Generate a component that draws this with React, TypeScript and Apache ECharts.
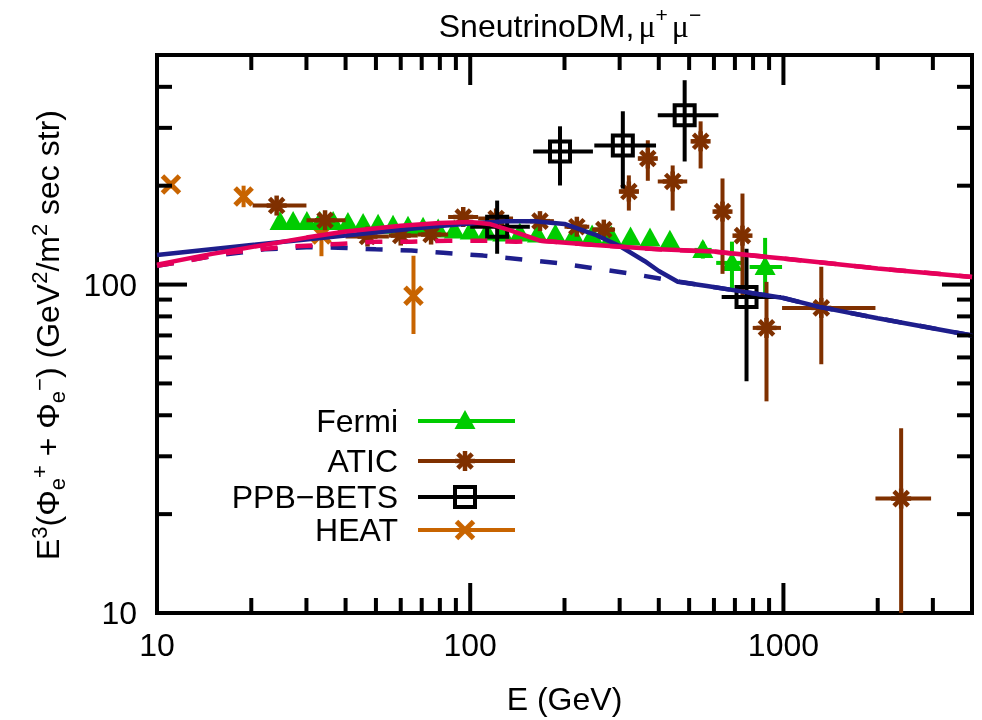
import React, { useEffect, useRef } from 'react';
import * as echarts from 'echarts';

// ---------- axes ----------
const X_MIN = 10;
const X_MAX = 4000;
const Y_MIN = 10;
const Y_MAX = 500;
const xMajorTicks = [10, 100, 1000];
const xMinorTicks = [20, 30, 40, 50, 60, 70, 80, 90, 200, 300, 400, 500, 600, 700, 800, 900, 2000, 3000];
const yMajorTicks = [10, 100];
const yMinorTicks = [20, 30, 40, 50, 60, 70, 80, 90, 200, 300, 400];
const xTickLabels = ['10', '100', '1000'];
const yTickLabels = ['10', '100'];

const titleText = 'SneutrinoDM,';
const xAxisTitle = 'E (GeV)';
const legendNames = ['Fermi', 'ATIC', 'PPB\u2212BETS', 'HEAT'];

// ---------- theory curves: [E (GeV), E^3 flux] ----------
const blueSolid = [
  [10, 123], [20, 132], [40, 141], [75, 150], [100, 153.5], [130, 156], [160, 156], [200, 153],
  [250, 142], [300, 131], [360, 118], [400, 110], [460, 102], [570, 99], [700, 96], [1000, 91],
  [1300, 85.5], [2000, 79], [4000, 70],
];
const blueDashed = [
  [10, 114], [15, 122], [22, 128], [30, 130], [38, 129.5], [50, 128], [65, 127], [82, 125],
  [110, 122.5], [150, 119], [195, 116], [250, 112], [325, 108], [410, 104], [466, 102], [570, 99],
  [700, 96], [1000, 91], [1300, 85.5], [2000, 79], [4000, 70],
];
const pinkSolid = [
  [10, 115], [15, 124], [20, 130], [30, 139], [40, 145], [60, 151], [80, 154], [100, 155],
  [115, 153], [135, 146], [167, 136], [250, 132], [400, 128], [600, 126], [1000, 120],
  [1300, 117], [2000, 112], [4000, 105.5],
];
const pinkDashed = [
  [10, 114], [13, 119], [17, 125], [25, 130], [38, 133], [50, 135], [65, 135], [85, 136],
  [110, 136], [140, 135], [167, 136], [250, 132], [400, 128], [600, 126], [1000, 120],
  [1300, 117], [2000, 112], [4000, 105.5],
];

// ---------- data: [E, value, Elow, Ehigh, valueLow, valueHigh] ----------
const fermi = [
  [24.7, 155, 24.7, 24.7, 155, 155], [27.2, 155, 27.2, 27.2, 155, 155], [30.1, 155, 30.1, 30.1, 155, 155],
  [33.1, 155, 33.1, 33.1, 155, 155], [36.5, 155, 36.5, 36.5, 155, 155], [40.7, 154, 40.7, 40.7, 154, 154],
  [45.5, 153, 45.5, 45.5, 153, 153], [50.8, 152, 50.8, 50.8, 152, 152], [56.7, 151, 56.7, 56.7, 151, 151],
  [63.3, 150, 63.3, 63.3, 150, 150], [70.7, 149, 70.7, 70.7, 149, 149], [79, 147, 79, 79, 147, 147],
  [89, 146, 89, 89, 146, 146], [100, 145, 100, 100, 145, 145], [113, 144, 113, 113, 144, 144],
  [127, 143, 127, 127, 143, 143], [144, 143, 144, 144, 143, 143], [164, 142, 164, 164, 142, 142],
  [187, 142, 187, 187, 142, 142], [214, 141, 214, 214, 141, 141], [245, 141, 245, 245, 141, 141],
  [282, 140, 282, 282, 140, 140], [325, 139, 325, 325, 139, 139], [375, 138, 375, 375, 138, 138],
  [434, 136, 434, 434, 136, 136], [553, 127.5, 520, 590, 120, 135], [685, 116.4, 610, 741, 96.3, 135.1],
  [874, 113.1, 780, 990, 92.9, 138.7],
];
const atic = [
  [24.1, 174, 20.2, 30, 168, 180], [34.4, 157, 30, 40, 152, 162], [47, 140, 40, 55, 136, 144],
  [60, 141, 55, 68, 137, 145], [75, 142, 68, 85, 138, 146], [95, 160.6, 85, 106, 156, 165],
  [121, 159, 106, 137, 154, 164], [167, 156, 150, 185, 151, 161], [219, 150, 200, 240, 144, 156],
  [267, 147, 245, 290, 140, 154], [321, 192, 300, 345, 168, 215], [369, 242, 345, 395, 207, 275],
  [443, 206, 397, 493, 168, 230.5], [544, 273, 510, 580, 225.7, 314], [639, 166.8, 600, 680, 107.8, 210.4],
  [740, 140.9, 700, 780, 92.4, 189.3], [883, 73.8, 798, 982, 44.1, 101.9], [1321, 84.9, 990, 1967, 57.2, 113.3],
  [2376, 22.3, 1967, 2961, 5, 36.5],
];
const ppbBets = [
  [121.9, 150.1, 100, 155, 124.1, 180.2], [193.5, 254.3, 158.8, 246.5, 200.3, 303.3],
  [307.1, 265.3, 249, 392, 196, 337], [483.8, 327.6, 397, 620, 237, 419],
  [762.4, 91.7, 635, 982, 50.8, 128.5],
];
const heat = [
  [11.08, 201.7, 11.08, 11.08, 196, 207], [18.9, 185.3, 18.9, 18.9, 172, 200],
  [33.5, 142, 33.5, 33.5, 122, 160], [65.9, 92.4, 65.9, 65.9, 70.7, 122.4],
];

// ---------- styles ----------
const GREEN = '#00cc00';
const BROWN = '#7f3000';
const ORANGE = '#c86400';
const BLACK = '#000000';
const BLUE = '#1e1e8c';
const PINK = '#e6005a';
const FONT = '"Liberation Sans", Arial, Helvetica, sans-serif';
const SERIF = '"Liberation Serif", "Times New Roman", serif';

const clamp = (v: number, lo: number, hi: number) => Math.min(Math.max(v, lo), hi);

function seg(x1: number, y1: number, x2: number, y2: number, color: string, lw: number) {
  return { type: 'line', shape: { x1, y1, x2, y2 }, style: { stroke: color, lineWidth: lw } };
}

function markerShapes(kind: string, cx: number, cy: number, color: string): any[] {
  if (kind === 'tri') {
    return [{ type: 'polygon', shape: { points: [[cx, cy - 11], [cx - 10.5, cy + 8], [cx + 10.5, cy + 8]] }, style: { fill: color } }];
  }
  if (kind === 'star') {
    const a = 10;
    const d = 7.2;
    return [
      seg(cx - a, cy, cx + a, cy, color, 4.5),
      seg(cx, cy - a, cx, cy + a, color, 4.5),
      seg(cx - d, cy - d, cx + d, cy + d, color, 4.5),
      seg(cx - d, cy + d, cx + d, cy - d, color, 4.5),
    ];
  }
  if (kind === 'cross') {
    const d = 8.5;
    return [seg(cx - d, cy - d, cx + d, cy + d, color, 5), seg(cx - d, cy + d, cx + d, cy - d, color, 5)];
  }
  // square
  return [{ type: 'rect', shape: { x: cx - 10, y: cy - 10, width: 20, height: 20 }, style: { fill: 'none', stroke: color, lineWidth: 4 } }];
}

function dataRenderer(kind: string, color: string) {
  return (_params: any, api: any) => {
    const e = api.value(0);
    const v = api.value(1);
    const el = api.value(2);
    const eh = api.value(3);
    const vl = api.value(4);
    const vh = api.value(5);
    const c = api.coord([e, v]);
    const children: any[] = [];
    if (vh > vl) {
      const a = api.coord([e, clamp(vl, Y_MIN, Y_MAX)]);
      const b = api.coord([e, clamp(vh, Y_MIN, Y_MAX)]);
      children.push(seg(c[0], a[1], c[0], b[1], color, 4));
    }
    if (eh > el) {
      const a = api.coord([clamp(el, X_MIN, X_MAX), v]);
      const b = api.coord([clamp(eh, X_MIN, X_MAX), v]);
      children.push(seg(a[0], c[1], b[0], c[1], color, 4));
    }
    children.push(...markerShapes(kind, c[0], c[1], color));
    return { type: 'group', children };
  };
}

// tick data built from tick arrays: [x, y, axis(0=x,1=y), major(1/0)]
const tickData = [
  ...xMajorTicks.map((t) => [t, Y_MIN, 0, 1]),
  ...xMinorTicks.map((t) => [t, Y_MIN, 0, 0]),
  ...yMajorTicks.map((t) => [X_MIN, t, 1, 1]),
  ...yMinorTicks.map((t) => [X_MIN, t, 1, 0]),
];

function tickRenderer(_params: any, api: any) {
  const axis = api.value(2);
  const major = api.value(3);
  const len = major ? 30 : 15;
  const lw = 4;
  if (axis === 0) {
    const x = api.value(0);
    const b = api.coord([x, Y_MIN]);
    const t = api.coord([x, Y_MAX]);
    return {
      type: 'group',
      children: [seg(b[0], b[1], b[0], b[1] - len, BLACK, lw), seg(t[0], t[1], t[0], t[1] + len, BLACK, lw)],
    };
  }
  const y = api.value(1);
  const l = api.coord([X_MIN, y]);
  const r = api.coord([X_MAX, y]);
  return {
    type: 'group',
    children: [seg(l[0], l[1], l[0] + len, l[1], BLACK, lw), seg(r[0], r[1], r[0] - len, r[1], BLACK, lw)],
  };
}

export default function App() {
  const ref = useRef<HTMLDivElement>(null);
  useEffect(() => {
    if (!ref.current) return;
    const chart = echarts.init(ref.current, undefined, { renderer: 'svg' });

    const legendX = 398;
    const legendYs = [421, 461, 497, 530];
    const legendKinds = ['tri', 'star', 'square', 'cross'];
    const legendColors = [GREEN, BROWN, BLACK, ORANGE];
    const legendGraphics: any[] = [];
    legendNames.forEach((name, i) => {
      const y = legendYs[i];
      legendGraphics.push({
        type: 'text', x: legendX, y,
        style: { text: name, font: `32px ${FONT}`, fill: '#000', align: 'right', verticalAlign: 'middle' },
      });
      legendGraphics.push({ type: 'line', shape: { x1: 418, y1: y, x2: 515, y2: y }, style: { stroke: legendColors[i], lineWidth: 4 } });
      legendGraphics.push(...markerShapes(legendKinds[i], 465, y, legendColors[i]));
    });

    const base = { fontFamily: FONT, fontSize: 32, lineHeight: 40, verticalAlign: 'middle' };
    const sup = { fontFamily: FONT, fontSize: 22, lineHeight: 26, verticalAlign: 'top' };
    const sub = { fontFamily: FONT, fontSize: 22, lineHeight: 26, verticalAlign: 'bottom' };

    chart.setOption({
      animation: false,
      grid: { left: 157, right: 10, top: 55, bottom: 107, show: true, borderColor: '#000', borderWidth: 4, backgroundColor: 'transparent' },
      xAxis: {
        type: 'log', logBase: 10, min: X_MIN, max: X_MAX,
        axisLine: { show: false }, axisTick: { show: false }, splitLine: { show: false },
        axisLabel: {
          margin: 16, color: '#000', fontFamily: FONT, fontSize: 32,
          alignMinLabel: 'center', alignMaxLabel: 'center',
          formatter: (v: number) => {
            const i = xMajorTicks.findIndex((t) => Math.abs(t - v) / t < 1e-6);
            return i >= 0 ? xTickLabels[i] : '';
          },
        },
        name: xAxisTitle, nameLocation: 'middle', nameGap: 70,
        nameTextStyle: { color: '#000', fontFamily: FONT, fontSize: 32 },
      },
      yAxis: {
        type: 'log', logBase: 10, min: Y_MIN, max: Y_MAX,
        axisLine: { show: false }, axisTick: { show: false }, splitLine: { show: false },
        axisLabel: {
          margin: 20, color: '#000', fontFamily: FONT, fontSize: 32,
          verticalAlignMinLabel: 'middle', verticalAlignMaxLabel: 'middle',
          formatter: (v: number) => {
            const i = yMajorTicks.findIndex((t) => Math.abs(t - v) / t < 1e-6);
            return i >= 0 ? yTickLabels[i] : '';
          },
        },
      },
      series: [
        { type: 'custom', name: 'ticks', renderItem: tickRenderer, data: tickData, encode: { x: 0, y: 1 }, silent: true, z: 10 },
        { type: 'custom', name: 'HEAT', renderItem: dataRenderer('cross', ORANGE), data: heat, encode: { x: 0, y: 1 }, silent: true, z: 2 },
        { type: 'custom', name: 'Fermi', renderItem: dataRenderer('tri', GREEN), data: fermi, encode: { x: 0, y: 1 }, silent: true, z: 2 },
        { type: 'custom', name: 'ATIC', renderItem: dataRenderer('star', BROWN), data: atic, encode: { x: 0, y: 1 }, silent: true, z: 2 },
        { type: 'custom', name: 'PPB-BETS', renderItem: dataRenderer('square', BLACK), data: ppbBets, encode: { x: 0, y: 1 }, silent: true, z: 2 },
        { type: 'line', name: 'dashed blue', data: blueDashed, symbol: 'none', silent: true, z: 3, lineStyle: { color: BLUE, width: 4.5, type: [17, 18] } },
        { type: 'line', name: 'dashed pink', data: pinkDashed, symbol: 'none', silent: true, z: 3, lineStyle: { color: PINK, width: 4.5, type: [17, 18] } },
        { type: 'line', name: 'solid blue', data: blueSolid, symbol: 'none', silent: true, z: 3, lineStyle: { color: BLUE, width: 4.5 } },
        { type: 'line', name: 'solid pink', data: pinkSolid, symbol: 'none', silent: true, z: 3, lineStyle: { color: PINK, width: 4.5 } },
      ],
      graphic: [
        {
          type: 'text', x: 570, y: 26,
          style: {
            text: `{n|${titleText}}{g|\u03bc}{s|+}{g|\u03bc}{s|\u2212}`,
            align: 'center', verticalAlign: 'middle',
            rich: {
              n: { fontFamily: FONT, fontSize: 32, lineHeight: 44, verticalAlign: 'middle' },
              g: { fontFamily: SERIF, fontSize: 32, lineHeight: 44, verticalAlign: 'middle', padding: [0, 0, 0, 4] },
              s: { fontFamily: FONT, fontSize: 21, lineHeight: 24, verticalAlign: 'top' },
            },
          },
        },
        {
          type: 'text', x: 48, y: 335, rotation: Math.PI / 2,
          style: {
            text: '{n|E}{p|3}{n|(\u03a6}{b|e}{p|+}{n| + \u03a6}{b|e}{p|\u2212}{n|) (GeV}{p|2}{n|/m}{p|2}{n| sec str)}',
            align: 'center', verticalAlign: 'middle',
            rich: { n: base, p: sup, b: sub },
          },
        },
        ...legendGraphics,
      ],
    });
    return () => chart.dispose();
  }, []);
  return <div ref={ref} style={{ position: 'fixed', left: 0, top: 0, width: 982, height: 720 }} />;
}
